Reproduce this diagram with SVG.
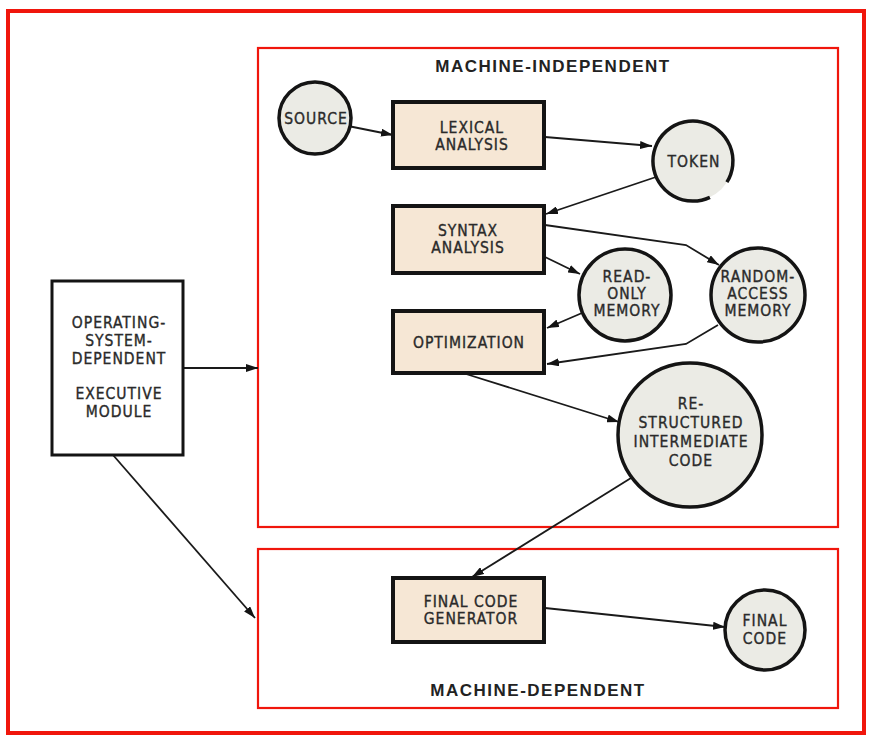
<svg xmlns="http://www.w3.org/2000/svg" width="871" height="736" viewBox="0 0 871 736">
<style>
.frame{fill:none;stroke:#f0160c}
.box{fill:#f6e7d5;stroke:#141414;stroke-width:4}
.circ{fill:#ebebe5;stroke:#141414;stroke-width:3.5}
.t{font-family:"DejaVu Sans Condensed","DejaVu Sans","Liberation Sans",sans-serif;font-stretch:condensed;font-size:15.5px;fill:#2a2a2a;stroke:#2a2a2a;stroke-width:0.35;text-anchor:middle;letter-spacing:1px}
.h{font-family:"Liberation Sans",Arial,sans-serif;font-size:17px;font-weight:bold;fill:#222;text-anchor:middle;letter-spacing:1.5px}
.c{fill:none;stroke:#1a1a1a;stroke-width:1.8;marker-end:url(#ah)}
</style>
<defs>
<marker id="ah" viewBox="0 0 12 8" refX="12" refY="4" markerWidth="12" markerHeight="8" markerUnits="userSpaceOnUse" orient="auto">
<path d="M0,0 L12,4 L0,8 Z" fill="#141414"/>
</marker>
</defs>
<rect width="871" height="736" fill="#ffffff"/>
<rect class="frame" x="8" y="11" width="856" height="722" stroke-width="4"/>
<g id="machine-independent">
<rect class="frame" x="258" y="48" width="580" height="479" stroke-width="2.2"/>
<text class="h" x="553" y="72">MACHINE-INDEPENDENT</text>
</g>
<g id="machine-dependent">
<rect class="frame" x="258" y="549" width="580" height="159" stroke-width="2.2"/>
<text class="h" x="538" y="696">MACHINE-DEPENDENT</text>
</g>
<g id="connectors">
<line class="c" x1="348" y1="126" x2="393" y2="135"/>
<line class="c" x1="545" y1="137" x2="652" y2="146"/>
<line class="c" x1="656" y1="177" x2="546" y2="214"/>
<line class="c" x1="545" y1="257" x2="580" y2="274"/>
<polyline class="c" points="545,225 686,245 719,265"/>
<line class="c" x1="582" y1="313" x2="547" y2="328"/>
<polyline class="c" points="718,325 686,344 547,364"/>
<line class="c" x1="466" y1="374" x2="619" y2="422"/>
<line class="c" x1="631" y1="478" x2="472" y2="577"/>
<line class="c" x1="545" y1="608" x2="725" y2="627"/>
<line class="c" x1="183" y1="368" x2="258" y2="368"/>
<line class="c" x1="113" y1="455" x2="255" y2="618"/>
</g>
<g id="os">
<rect x="52" y="281" width="131" height="174" fill="#ffffff" stroke="#141414" stroke-width="3"/>
<text class="t" x="119" y="328" letter-spacing="1.4">OPERATING-</text>
<text class="t" x="119" y="346" letter-spacing="1.4">SYSTEM-</text>
<text class="t" x="119" y="364" letter-spacing="1.4">DEPENDENT</text>
<text class="t" x="119" y="399" letter-spacing="1.4">EXECUTIVE</text>
<text class="t" x="119" y="417" letter-spacing="1.4">MODULE</text>
</g>
<g id="source">
<circle class="circ" cx="315" cy="118" r="36"/>
<text class="t" x="316" y="124" letter-spacing="0.4">SOURCE</text>
</g>
<g id="lexical">
<rect class="box" x="393" y="102" width="151" height="66"/>
<text class="t" x="472" y="133">LEXICAL</text>
<text class="t" x="472" y="150">ANALYSIS</text>
</g>
<g id="token">
<circle cx="693" cy="161" r="40" fill="#ebebe5"/>
<path d="M709.9,197.3 A40,40 0 1 1 726.9,182.2" fill="none" stroke="#141414" stroke-width="3.5"/>
<text class="t" x="694" y="167">TOKEN</text>
</g>
<g id="syntax">
<rect class="box" x="393" y="206" width="151" height="67"/>
<text class="t" x="468" y="236">SYNTAX</text>
<text class="t" x="468" y="253">ANALYSIS</text>
</g>
<g id="rom">
<circle class="circ" cx="625" cy="295" r="46"/>
<text class="t" x="627" y="282">READ-</text>
<text class="t" x="627" y="299">ONLY</text>
<text class="t" x="627" y="316">MEMORY</text>
</g>
<g id="ram">
<circle class="circ" cx="758" cy="295" r="47"/>
<text class="t" x="758" y="282" letter-spacing="0.6">RANDOM-</text>
<text class="t" x="758" y="299" letter-spacing="0.6">ACCESS</text>
<text class="t" x="758" y="316" letter-spacing="0.6">MEMORY</text>
</g>
<g id="optimization">
<rect class="box" x="393" y="311" width="151" height="62"/>
<text class="t" x="469" y="348">OPTIMIZATION</text>
</g>
<g id="restructured">
<circle class="circ" cx="690" cy="435" r="72"/>
<text class="t" x="691" y="409">RE-</text>
<text class="t" x="691" y="428">STRUCTURED</text>
<text class="t" x="691" y="447">INTERMEDIATE</text>
<text class="t" x="691" y="466">CODE</text>
</g>
<g id="final-code-generator">
<rect class="box" x="393" y="578" width="151" height="64"/>
<text class="t" x="471" y="607">FINAL CODE</text>
<text class="t" x="471" y="624">GENERATOR</text>
</g>
<g id="final-code">
<circle class="circ" cx="765" cy="630" r="40"/>
<text class="t" x="765" y="626">FINAL</text>
<text class="t" x="765" y="644">CODE</text>
</g>
</svg>
